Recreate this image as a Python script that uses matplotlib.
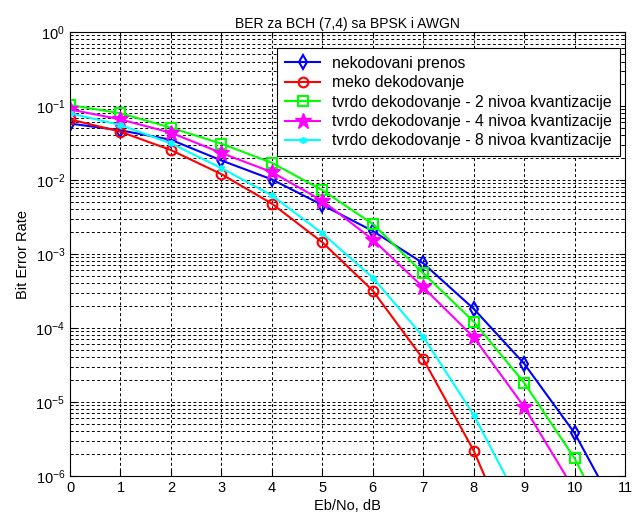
import numpy as np
import matplotlib
matplotlib.use("Agg")
import matplotlib.pyplot as plt
from matplotlib.ticker import LogLocator, NullFormatter

plt.rcParams['font.family'] = ['Liberation Sans', 'DejaVu Sans']
plt.rcParams['mathtext.default'] = 'regular'

# Eb/No (dB)
ebno = [0, 1, 2, 3, 4, 5, 6, 7, 8, 9, 10, 11]

# BER procitan sa slike (zadnja tacka je ispod 1e-6, samo da linija ode do ivice)
ber_nekodovani = [0.058, 0.047, 0.035, 0.0184, 0.0102, 4.6e-3, 2.05e-3, 7.5e-4,
                  1.82e-4, 3.3e-5, 3.8e-6, 2.1e-7]
ber_meko = [0.066, 0.045, 0.0254, 0.012, 4.8e-3, 1.44e-3, 3.2e-4, 3.8e-5,
            2.2e-6, 5.7e-8]
ber_tvrdo2 = [0.103, 0.080, 0.051, 0.031, 0.0171, 7.3e-3, 2.55e-3, 5.5e-4,
              1.22e-4, 1.82e-5, 1.73e-6, 8e-8]
ber_tvrdo4 = [0.090, 0.066, 0.0436, 0.0232, 0.0128, 5.25e-3, 1.57e-3, 3.55e-4,
              7.5e-5, 8.6e-6, 6.4e-7]
ber_tvrdo8 = [0.080, 0.0554, 0.0313, 0.0145, 6.2e-3, 1.9e-3, 4.8e-4, 7.6e-5,
              6.7e-6, 3.3e-7]

labels = ['nekodovani prenos', 'meko dekodovanje',
          'tvrdo dekodovanje - 2 nivoa kvantizacije',
          'tvrdo dekodovanje - 4 nivoa kvantizacije',
          'tvrdo dekodovanje - 8 nivoa kvantizacije']

fig = plt.figure(figsize=(6.32, 5.19), dpi=100)
ax = fig.add_axes([0.1108, 0.0829, 0.8782, 0.8553])

lw = 1.5
ax.semilogy(ebno[:len(ber_nekodovani)], ber_nekodovani, color='#0000ff', lw=lw,
            marker='d', ms=7, mfc='none', mew=1.5, label=labels[0])
ax.semilogy(ebno[:len(ber_meko)], ber_meko, color='#ff0000', lw=lw,
            marker='o', ms=7, mfc='none', mew=1.5, label=labels[1])
ax.semilogy(ebno[:len(ber_tvrdo2)], ber_tvrdo2, color='#00ff00', lw=lw,
            marker='s', ms=7, mfc='none', mew=1.5, label=labels[2])
ax.semilogy(ebno[:len(ber_tvrdo4)], ber_tvrdo4, color='#ff00ff', lw=lw,
            marker='*', ms=12, mfc='#ff00ff', mew=1, label=labels[3])
ax.semilogy(ebno[:len(ber_tvrdo8)], ber_tvrdo8, color='#00ffff', lw=lw,
            marker=(6, 2, 0), ms=5, mew=1.2, label=labels[4])

ax.set_xlim(0, 11)
ax.set_ylim(1e-6, 1)
ax.set_xticks(range(0, 12))
ax.yaxis.set_major_locator(LogLocator(base=10, numticks=10))
ax.yaxis.set_minor_locator(LogLocator(base=10, subs=np.arange(2, 10), numticks=20))
ax.yaxis.set_minor_formatter(NullFormatter())

# MATLAB stil mreze
ax.grid(True, which='major', axis='both', color='k', lw=0.7, linestyle=(0, (3, 2.5)))
ax.grid(True, which='minor', axis='y', color='k', lw=0.7, linestyle=(0, (3, 2.5)))

ax.tick_params(which='both', direction='in', top=True, right=True, labelsize=10.5)
ax.tick_params(which='major', length=4)
ax.tick_params(which='minor', length=2)
for s in ax.spines.values():
    s.set_linewidth(0.8)

ax.set_title('BER za BCH (7,4) sa BPSK i AWGN', fontsize=10, pad=3)
ax.set_xlabel('Eb/No, dB', fontsize=10.5, labelpad=3)
ax.set_ylabel('Bit Error Rate', fontsize=10.5)

leg = ax.legend(loc='upper right', bbox_to_anchor=(0.991, 0.964), fontsize=11.3,
                fancybox=False, framealpha=1, edgecolor='k', borderaxespad=0,
                handlelength=2.2, handletextpad=0.8, labelspacing=0.28,
                borderpad=0.5)
leg.get_frame().set_linewidth(0.8)

fig.savefig('out.png', dpi=100)
